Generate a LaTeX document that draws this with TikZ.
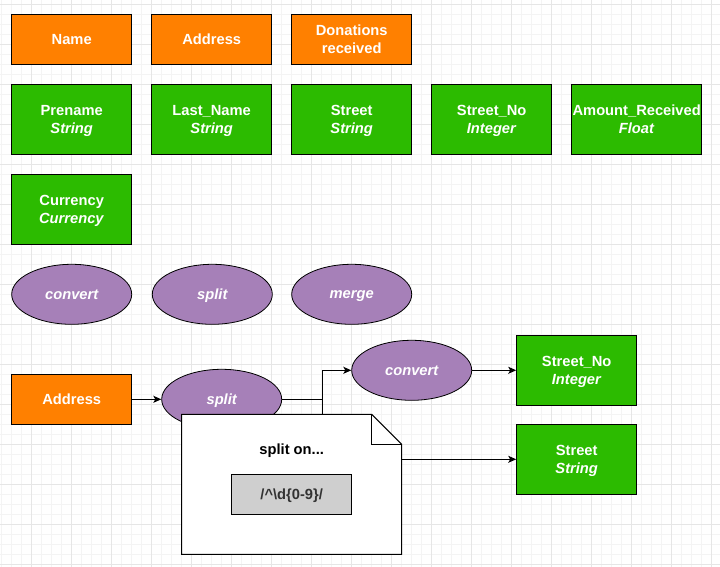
\documentclass[tikz,border=0pt]{standalone}
\usepackage{fontspec}
\setmainfont{Liberation Sans}
\usetikzlibrary{shapes.geometric,arrows.meta}

\definecolor{fieldorange}{HTML}{FF8000}
\definecolor{typegreen}{HTML}{2CBB00}
\definecolor{oppurple}{HTML}{A680B8}
\definecolor{gridminor}{HTML}{F4F4F4}
\definecolor{gridmajor}{HTML}{E6E6E6}
\definecolor{regexgray}{HTML}{CFCFCF}

\tikzset{
  field/.style={draw=black, line width=1pt, fill=fieldorange, text=white,
    minimum width=120pt, minimum height=50pt, inner sep=0pt, align=center, text depth=0pt,
    font=\fontsize{14.7}{18}\selectfont\bfseries},
  typed/.style={field, fill=typegreen, minimum height=70pt},
  operation/.style={ellipse, draw=black, line width=0.8pt, fill=oppurple, text=white,
    minimum width=120pt, minimum height=60pt, inner sep=0pt, text depth=0pt,
    font=\fontsize{14.7}{18}\selectfont\bfseries\itshape},
  flow/.style={line width=1pt, -{Stealth[length=8pt,width=7pt,inset=2pt]}}
}

\begin{document}
\begin{tikzpicture}[x=1pt, y=-1pt]
				\useasboundingbox (0,0) rectangle (720,567);
				
				% Background grid
				\foreach \gx in {1.7,11.7,...,720} \draw[gridminor, line width=1pt] (\gx,0) -- (\gx,567);
				\foreach \gy in {4.3,14.3,...,567} \draw[gridminor, line width=1pt] (0,\gy) -- (720,\gy);
				\foreach \gx in {31.7,71.7,...,720} \draw[gridmajor, line width=1pt] (\gx,0) -- (\gx,567);
				\foreach \gy in {4.3,44.3,...,567} \draw[gridmajor, line width=1pt] (0,\gy) -- (720,\gy);
				
				% Fields
				\node[field] (name) at (71.7,39.3) {Name};
				\node[field] (address) at (211.7,39.3) {Address};
				\node[field] (donations) at (351.7,39.3) {Donations\\received};
				
				% Typed attributes
				\node[typed] (prename) at (71.7,119.3) {Prename\\\textit{String}};
				\node[typed] (lastname) at (211.7,119.3) {Last\_Name\\\textit{String}};
				\node[typed] (street) at (351.7,119.3) {Street\\\textit{String}};
				\node[typed] (streetno) at (491.7,119.3) {Street\_No\\\textit{Integer}};
				\node[typed, minimum width=130pt] (amount) at (636.7,119.3) {Amount\_Received\\\textit{Float}};
				\node[typed] (currency) at (71.7,209.3) {Currency\\\textit{Currency}};
				
				% Operations
				\node[operation] (convert) at (71.7,294.3) {convert};
				\node[operation] (split) at (212.3,294.3) {split};
				\node[operation] (merge) at (351.7,294.3) {merge};
				
				% Example: splitting the address
				\node[field] (addressin) at (71.7,399.3) {Address};
				\node[operation] (splitaddr) at (221.7,399.3) {split};
				\node[operation] (convertno) at (411.7,370.3) {convert};
				\node[typed] (streetnoout) at (576.7,370.3) {Street\_No\\\textit{Integer}};
				\node[typed] (streetout) at (576.7,459.3) {Street\\\textit{String}};
				
				\draw[flow] (addressin) -- (splitaddr);
				\draw[flow] (splitaddr.east) -- ++(40,0) |- (convertno.west);
				\draw[flow] (splitaddr.east) -- ++(40,0) |- (streetout.west);
				\draw[flow] (convertno) -- (streetnoout);
				
				% Note on the split
				\coordinate (NA) at (181.7,414.3);
				\coordinate (NB) at (371.7,414.3);
				\coordinate (NC) at (401.7,444.3);
				\coordinate (ND) at (401.7,554.3);
				\coordinate (NE) at (181.7,554.3);
				\draw[line width=1pt, fill=white] (NA) -- (NB) -- (NC) -- (ND) -- (NE) -- cycle;
				\draw[line width=1pt] (NB) -- (371.7,444.3) -- (NC);
				\node[font=\fontsize{14.7}{18}\selectfont\bfseries, text depth=0pt] (splitnote) at (291.7,449.3) {split on...};
				\node[draw=black, line width=1pt, fill=regexgray, text=black!80,
				  minimum width=120pt, minimum height=40pt, inner sep=0pt, text depth=0pt,
				  font=\fontsize{14.7}{18}\selectfont\bfseries] (regex) at (291.7,494.3) {/\^{}\textbackslash d\{0-9\}/};
			\end{tikzpicture}
\end{document}
